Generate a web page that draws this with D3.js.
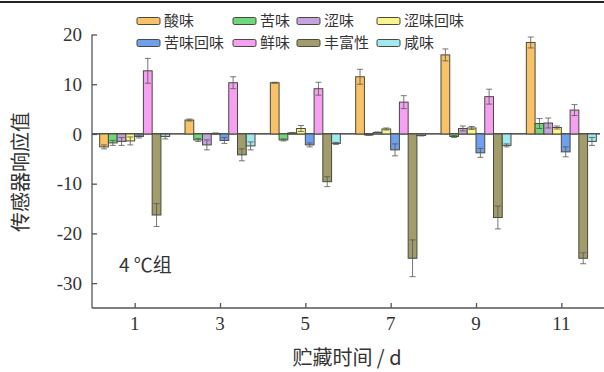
<!DOCTYPE html>
<html lang="zh">
<meta charset="UTF-8">
<style>
body { margin:0; background:#fff; }
svg text { fill:#333; }
.num { font-family:"Liberation Serif", "DejaVu Serif", serif; }
.cjk { font-family:"Noto Sans CJK SC", sans-serif; }
</style>
<script src="https://d3js.org/d3.v7.min.js"></script>
<body>
<div id="chart"></div>
<script>
// storage days
var days = [1, 3, 5, 7, 9, 11];
var series = ["酸味", "苦味", "涩味", "涩味回味", "苦味回味", "鲜味", "丰富性", "咸味"];
var colors = ["#f9c168", "#70d67e", "#c6a2e0", "#f9f58c", "#6fa0ef", "#f6a0f3", "#a09c6c", "#a0e8f2"];
// values per series, one per day
var sour      = [-2.6, 2.8, 10.3, 11.5, 15.9, 18.4];
var bitter    = [-1.8, -1.2, -1.2, -0.2, -0.5, 2.1];
var astring   = [-1.5, -2.2, 0.2, 0.3, 1.1, 2.2];
var astrAfter = [-1.4, 0.1, 1.1, 1.0, 1.2, 1.3];
var bitAfter  = [-0.5, -1.3, -2.2, -3.2, -3.8, -3.6];
var umami     = [12.7, 10.3, 9.1, 6.4, 7.5, 4.8];
var richness  = [-16.3, -4.2, -9.6, -25.0, -16.8, -25.0];
var salty     = [-0.5, -2.4, -1.9, -0.3, -2.3, -1.5];
// error bars (sd)
var sourErr      = [0.4, 0.2, 0.1, 1.5, 1.2, 1.1];
var bitterErr    = [0.5, 0.3, 0.2, 0.1, 0.2, 1.0];
var astringErr   = [0.8, 1.0, 0.1, 0.1, 0.5, 1.0];
var astrAfterErr = [0.8, 0.1, 0.6, 0.2, 0.3, 0.3];
var bitAfterErr  = [0.3, 0.6, 0.4, 1.2, 0.9, 1.0];
var umamiErr     = [2.5, 1.2, 1.3, 1.3, 1.5, 1.1];
var richnessErr  = [2.3, 1.2, 1.0, 3.7, 2.3, 1.1];
var saltyErr     = [0.5, 0.8, 0.2, 0.1, 0.3, 0.8];
var yTicks = [20, 10, 0, -10, -20, -30];

var allVals = [sour, bitter, astring, astrAfter, bitAfter, umami, richness, salty];
var allErrs = [sourErr, bitterErr, astringErr, astrAfterErr, bitAfterErr, umamiErr, richnessErr, saltyErr];

var W = 604, H = 372;
var svg = d3.select("#chart").append("svg").attr("width", W).attr("height", H);

// top border line
svg.append("line").attr("x1", 0).attr("x2", W).attr("y1", 2).attr("y2", 2)
  .attr("stroke", "#222").attr("stroke-width", 2);

var x = d3.scaleLinear().domain([0, 12]).range([92, 604]);
var y = d3.scaleLinear().domain([-35, 20]).range([308, 34.5]);
var inner = d3.scaleBand().domain(series).range([-35, 35]);

// zero line
svg.append("line").attr("x1", 92).attr("x2", 600).attr("y1", y(0)).attr("y2", y(0))
  .attr("stroke", "#222").attr("stroke-width", 1.2);

// bars + error bars
series.forEach(function(s, i) {
  var data = days.map(function(d, j) { return {day: d, v: allVals[i][j], e: allErrs[i][j]}; });
  var g = svg.append("g");
  g.selectAll("rect").data(data).enter().append("rect")
    .attr("x", function(d) { return x(d.day) + inner(s); })
    .attr("y", function(d) { return y(Math.max(0, d.v)); })
    .attr("width", inner.bandwidth())
    .attr("height", function(d) { return Math.abs(y(d.v) - y(0)); })
    .attr("fill", colors[i]).attr("stroke", "#4a4a3a").attr("stroke-width", 1);
  var cx = function(d) { return x(d.day) + inner(s) + inner.bandwidth() / 2; };
  g.selectAll("line.eb").data(data).enter().append("line")
    .attr("x1", cx).attr("x2", cx)
    .attr("y1", function(d) { return y(d.v - d.e); })
    .attr("y2", function(d) { return y(d.v + d.e); })
    .attr("stroke", "#555").attr("stroke-width", 0.8);
  [-1, 1].forEach(function(k) {
    g.selectAll("line.cap" + k).data(data).enter().append("line")
      .attr("x1", function(d) { return cx(d) - 3; })
      .attr("x2", function(d) { return cx(d) + 3; })
      .attr("y1", function(d) { return y(d.v + k * d.e); })
      .attr("y2", function(d) { return y(d.v + k * d.e); })
      .attr("stroke", "#555").attr("stroke-width", 0.8);
  });
});

// axes (ticks inward)
var yAxis = svg.append("g").attr("transform", "translate(92,0)")
  .call(d3.axisRight(y).tickValues(yTicks).tickSize(5).tickFormat(""));
yAxis.select(".domain").attr("d", "M0," + y(20) + "V308");
yAxis.selectAll("line, path").attr("stroke", "#555").attr("stroke-width", 1.3);
svg.selectAll("text.ytick").data(yTicks).enter().append("text")
  .attr("class", "num").attr("x", 82).attr("y", function(d) { return y(d); })
  .attr("dy", "0.35em").attr("text-anchor", "end").style("font-size", "19px")
  .text(function(d) { return d; });

var xAxis = svg.append("g").attr("transform", "translate(0,308)")
  .call(d3.axisTop(x).tickValues(days).tickSize(5).tickFormat(""));
xAxis.select(".domain").attr("d", "M92,0H604");
xAxis.selectAll("line, path").attr("stroke", "#555").attr("stroke-width", 1.3);
svg.selectAll("text.xtick").data(days).enter().append("text")
  .attr("class", "num").attr("x", function(d) { return x(d); }).attr("y", 330)
  .attr("text-anchor", "middle").style("font-size", "19px")
  .text(function(d) { return d; });

// titles
svg.append("text").attr("class", "cjk").attr("transform", "translate(28,172) rotate(-90)")
  .attr("text-anchor", "middle").style("font-size", "20px").text("传感器响应值");
svg.append("text").attr("class", "cjk").attr("x", 347).attr("y", 365)
  .attr("text-anchor", "middle").style("font-size", "20px").text("贮藏时间 / d");
svg.append("text").attr("class", "cjk").attr("x", 119).attr("y", 272)
  .style("font-size", "19px").text("4 ℃组");

// legend
var legX = [137, 233, 297, 377];
var legY = [21, 43];
series.forEach(function(s, i) {
  var lx = legX[i % 4], ly = legY[Math.floor(i / 4)];
  svg.append("rect").attr("x", lx).attr("y", ly - 3.5).attr("width", 23).attr("height", 7)
    .attr("rx", 1.5).attr("fill", colors[i]).attr("stroke", "#4a4a3a").attr("stroke-width", 1);
  svg.append("text").attr("class", "cjk").attr("x", lx + 27).attr("y", ly)
    .attr("dy", "0.35em").style("font-size", "15px").text(s);
});
</script>
</body>
</html>
